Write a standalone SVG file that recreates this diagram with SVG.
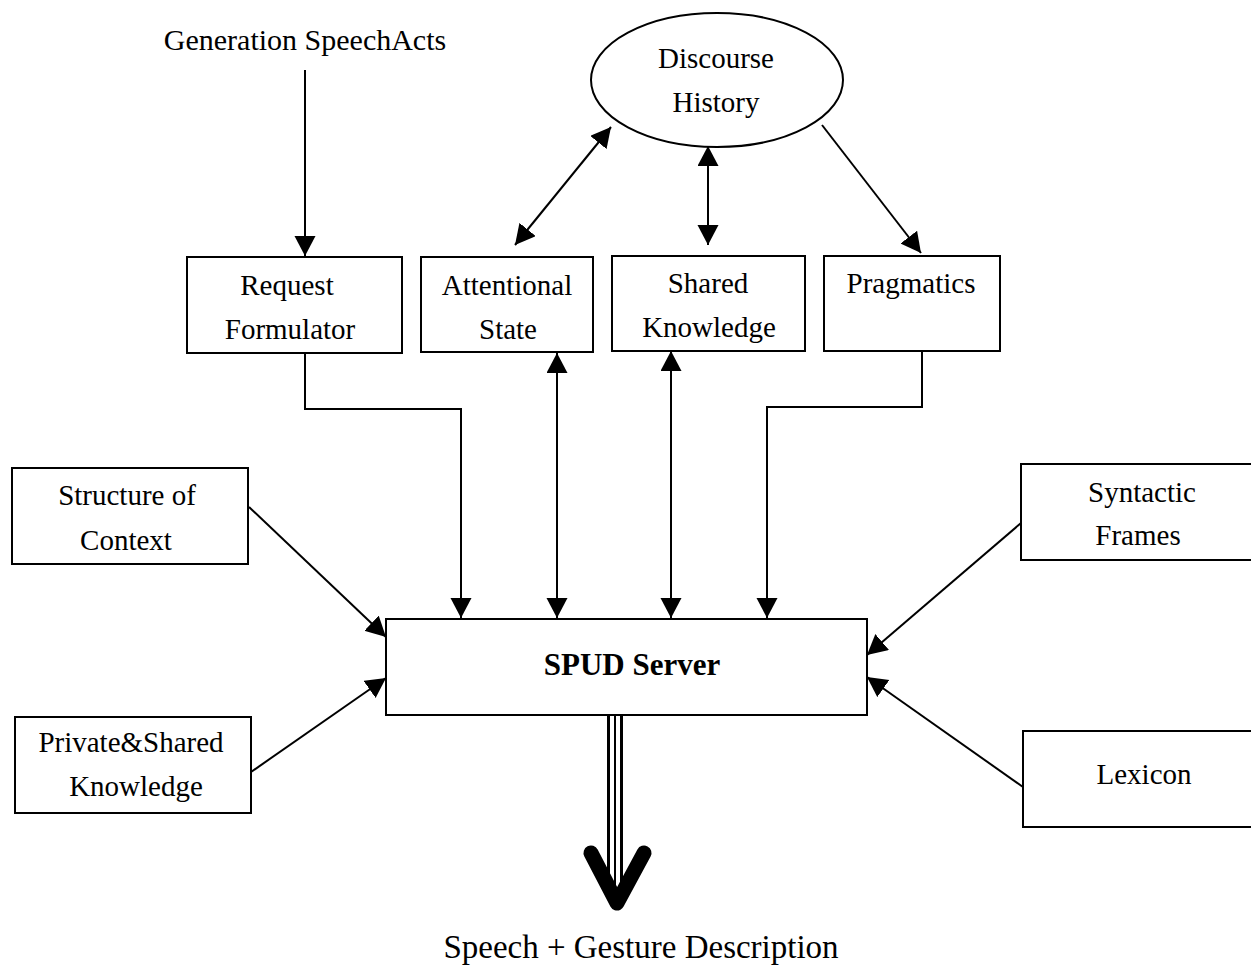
<svg xmlns="http://www.w3.org/2000/svg" width="1251" height="969" viewBox="0 0 1251 969">
<style>
  .box { fill: #fff; stroke: #000; stroke-width: 2; }
  .t { font-family: "Liberation Serif", "Times New Roman", serif; font-size: 29px; fill: #000; text-anchor: middle; }
  .b { font-weight: bold; font-size: 31px; }
  .c { fill: none; stroke: #000; stroke-width: 2; }
</style>
<defs>
  <marker id="ah" markerUnits="userSpaceOnUse" markerWidth="20" markerHeight="22" refX="20" refY="10.5" orient="auto-start-reverse">
    <path d="M0,0 L20,10.5 L0,21 z" fill="#000"/>
  </marker>
</defs>
<rect width="1251" height="969" fill="#fff"/>

<g id="connectors">
  <line class="c" x1="305" y1="70" x2="305" y2="256" marker-end="url(#ah)"/>
  <polyline class="c" points="305,353 305,409 461,409 461,618" marker-end="url(#ah)"/>
  <line class="c" x1="557" y1="353" x2="557" y2="618" marker-start="url(#ah)" marker-end="url(#ah)"/>
  <line class="c" x1="671" y1="351" x2="671" y2="618" marker-start="url(#ah)" marker-end="url(#ah)"/>
  <polyline class="c" points="922,351 922,407 767,407 767,618" marker-end="url(#ah)"/>
  <line class="c" x1="611" y1="127" x2="515" y2="245" marker-start="url(#ah)" marker-end="url(#ah)"/>
  <line class="c" x1="708" y1="146" x2="708" y2="245" marker-start="url(#ah)" marker-end="url(#ah)"/>
  <line class="c" x1="822" y1="125" x2="921" y2="253" marker-end="url(#ah)"/>
  <line class="c" x1="249" y1="507" x2="386" y2="637" marker-end="url(#ah)"/>
  <line class="c" x1="251" y1="772" x2="386" y2="678" marker-end="url(#ah)"/>
  <line class="c" x1="1021" y1="523" x2="867" y2="655" marker-end="url(#ah)"/>
  <line class="c" x1="1023" y1="787" x2="867" y2="677" marker-end="url(#ah)"/>
  <g id="output-arrow">
    <line x1="608.5" y1="714" x2="608.5" y2="890" stroke="#000" stroke-width="3"/>
    <line x1="615" y1="714" x2="615" y2="890" stroke="#000" stroke-width="2"/>
    <line x1="621.5" y1="714" x2="621.5" y2="890" stroke="#000" stroke-width="3"/>
    <path d="M591,853 L617,903 L644,853" fill="none" stroke="#000" stroke-width="15" stroke-linecap="round" stroke-linejoin="round"/>
  </g>
</g>

<g id="generation">
  <text class="t" x="305" y="50" style="font-size:30px">Generation SpeechActs</text>
</g>
<g id="discourse-history">
  <ellipse cx="717" cy="80" rx="126" ry="67" class="box"/>
  <text class="t" x="716" y="68">Discourse</text>
  <text class="t" x="716" y="112">History</text>
</g>
<g id="request-formulator">
  <rect class="box" x="187" y="257" width="215" height="96"/>
  <text class="t" x="287" y="295">Request</text>
  <text class="t" x="290" y="339">Formulator</text>
</g>
<g id="attentional-state">
  <rect class="box" x="421" y="257" width="172" height="95"/>
  <text class="t" x="507" y="295">Attentional</text>
  <text class="t" x="508" y="339">State</text>
</g>
<g id="shared-knowledge">
  <rect class="box" x="612" y="256" width="193" height="95"/>
  <text class="t" x="708" y="293">Shared</text>
  <text class="t" x="709" y="337">Knowledge</text>
</g>
<g id="pragmatics">
  <rect class="box" x="824" y="256" width="176" height="95"/>
  <text class="t" x="911" y="293">Pragmatics</text>
</g>
<g id="structure-of-context">
  <rect class="box" x="12" y="468" width="236" height="96"/>
  <text class="t" x="127" y="505">Structure of</text>
  <text class="t" x="126" y="550">Context</text>
</g>
<g id="private-shared-knowledge">
  <rect class="box" x="15" y="717" width="236" height="96"/>
  <text class="t" x="131" y="752">Private&amp;Shared</text>
  <text class="t" x="136" y="796">Knowledge</text>
</g>
<g id="spud-server">
  <rect class="box" x="386" y="619" width="481" height="96"/>
  <text class="t b" x="632" y="675">SPUD Server</text>
</g>
<g id="syntactic-frames">
  <rect class="box" x="1021" y="464" width="245" height="96"/>
  <text class="t" x="1142" y="502">Syntactic</text>
  <text class="t" x="1138" y="545">Frames</text>
</g>
<g id="lexicon">
  <rect class="box" x="1023" y="731" width="245" height="96"/>
  <text class="t" x="1144" y="784">Lexicon</text>
</g>
<g id="output">
  <text class="t" x="641" y="958" style="font-size:33px">Speech + Gesture Description</text>
</g>
</svg>
